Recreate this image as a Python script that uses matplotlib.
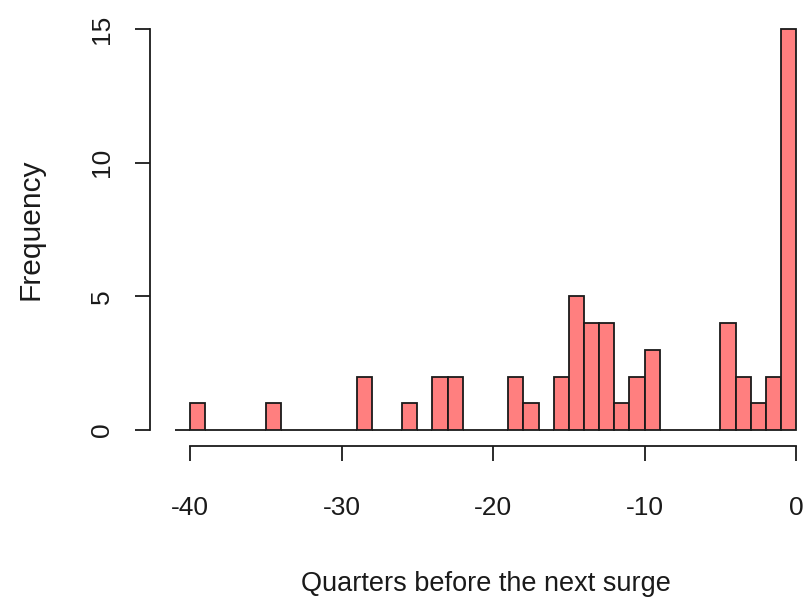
import numpy as np
import matplotlib
matplotlib.use("Agg")
import matplotlib.pyplot as plt

plt.rcParams['font.family'] = ['Liberation Sans', 'DejaVu Sans']
plt.rcParams['axes.unicode_minus'] = False

# histogram bins (left edges, width 1 quarter) and counts
bin_left = list(range(-41, 0))
counts = [0, 1, 0, 0, 0, 0, 1, 0, 0, 0,
          0, 0, 2, 0, 0, 1, 0, 2, 2, 0,
          0, 0, 2, 1, 0, 2, 5, 4, 4, 1,
          2, 3, 0, 0, 0, 0, 4, 2, 1, 2,
          15]
x_ticks = [-40, -30, -20, -10, 0]
y_ticks = [0, 5, 10, 15]

fig = plt.figure(figsize=(8.1, 5.97), dpi=100)
W, H = 810, 597
# R-style plot region (4% padding on each side of the data range)
ax = fig.add_axes([150 / W, (H - 446) / H, 671 / W, 433 / H])

ax.bar(bin_left, counts, width=1, align='edge', color='#ff7f7f',
       edgecolor='#1a1a1a', linewidth=1.3)

ax.set_xlim(-42.64, 1.64)
ax.set_ylim(-0.6, 15.6)

for s in ['top', 'right']:
    ax.spines[s].set_visible(False)
ax.spines['left'].set_bounds(0, 15)
ax.spines['bottom'].set_bounds(-40, 0)
for s in ['left', 'bottom']:
    ax.spines[s].set_linewidth(1.3)
    ax.spines[s].set_color('#1a1a1a')

ax.set_xticks(x_ticks)
ax.set_yticks(y_ticks)
ax.tick_params(axis='both', length=11, width=1.3, color='#1a1a1a',
               labelsize=19, labelcolor='#1a1a1a')
ax.tick_params(axis='x', pad=25)
ax.tick_params(axis='y', pad=15, labelrotation=90)
for lbl in ax.get_yticklabels():
    lbl.set_va('center')

ax.set_xlabel('Quarters before the next surge', fontsize=19.5,
              color='#1a1a1a', labelpad=37)
ax.set_ylabel('Frequency', fontsize=21.5, color='#1a1a1a', labelpad=33)

fig.savefig('out.png', dpi=100)
